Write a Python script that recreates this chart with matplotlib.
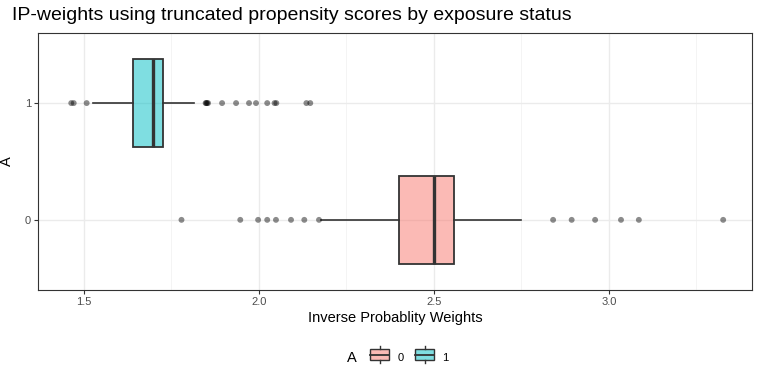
import numpy as np
import matplotlib
matplotlib.use("Agg")
import matplotlib.pyplot as plt
from matplotlib.legend_handler import HandlerBase
from matplotlib.patches import Rectangle
from matplotlib.lines import Line2D
from matplotlib.offsetbox import HPacker

plt.rcParams["font.family"] = ["Liberation Sans", "DejaVu Sans"]

# exposure groups (A) and box summaries
groups = ["0", "1"]
fills = ["#F8766D", "#00BFC4"]
q1 = [2.402, 1.641]
med = [2.500, 1.697]
q3 = [2.559, 1.726]
whislo = [2.177, 1.525]
whishi = [2.749, 1.815]
fliers = [
    [1.779, 1.947, 1.998, 2.024, 2.049, 2.092, 2.130, 2.172,
     2.841, 2.894, 2.961, 3.035, 3.086, 3.327],
    [1.464, 1.471, 1.508, 1.848, 1.850, 1.852, 1.855, 1.895, 1.935,
     1.972, 1.992, 2.024, 2.045, 2.050, 2.136, 2.147],
]
x_ticks = [1.5, 2.0, 2.5, 3.0]
ALPHA = 0.5


class BoxKeyHandler(HandlerBase):
    def create_artists(self, legend, orig_handle, xd, yd, w, h, fs, trans):
        yd = yd - 0.3 * h  # line the key up with the label text
        cx = xd + w / 2
        x0, x1 = xd + w * 0.05, xd + w * 0.95
        y0, y1 = yd + h * 0.15, yd + h * 0.85
        rect = Rectangle((x0, y0), x1 - x0, y1 - y0,
                         facecolor=orig_handle.get_facecolor(),
                         edgecolor="#333333", lw=1.0, transform=trans)
        mid = Line2D([x0, x1], [yd + h / 2, yd + h / 2],
                     color="#333333", lw=1.3, transform=trans)
        top = Line2D([cx, cx], [y1, yd + h * 1.05], color="#333333",
                     lw=1.0, transform=trans)
        bot = Line2D([cx, cx], [yd - h * 0.05, y0], color="#333333",
                     lw=1.0, transform=trans)
        return [rect, mid, top, bot]


fig = plt.figure(figsize=(7.68, 3.84), dpi=100)
ax = fig.add_axes([0.0495, 0.245, 0.9295, 0.669])

stats = []
for i in range(len(groups)):
    stats.append(dict(med=med[i], q1=q1[i], q3=q3[i], whislo=whislo[i],
                      whishi=whishi[i], fliers=[]))
bp = ax.bxp(stats, positions=[0, 1], orientation="horizontal", widths=0.75,
            patch_artist=True, showfliers=False, showcaps=False,
            boxprops=dict(edgecolor="#333333", lw=1.3),
            medianprops=dict(color="#333333", lw=2.4),
            whiskerprops=dict(color="#333333", lw=1.2))
for patch, c in zip(bp["boxes"], fills):
    patch.set_facecolor(matplotlib.colors.to_rgba(c, ALPHA))
    patch.set_zorder(3)
for k in ("medians", "whiskers"):
    for ln in bp[k]:
        ln.set_zorder(4)

for i, pts in enumerate(fliers):
    ax.scatter(pts, [i] * len(pts), s=18, color="black", alpha=0.45,
               edgecolors="none", zorder=5)

ax.set_xlim(1.369, 3.409)
ax.set_ylim(-0.6, 1.6)
ax.set_xticks(x_ticks)
ax.set_xticklabels([f"{t:.1f}" for t in x_ticks])
ax.set_xticks([1.75, 2.25, 2.75, 3.25], minor=True)
ax.set_yticks([0, 1])
ax.set_yticklabels(groups)
ax.grid(which="major", color="#EBEBEB", lw=1.0, zorder=0)
ax.grid(which="minor", axis="x", color="#F2F2F2", lw=0.6, zorder=0)
ax.set_axisbelow(True)
ax.tick_params(which="major", length=3, color="#333333", labelsize=8,
               labelcolor="#4D4D4D", pad=2)
ax.tick_params(which="minor", length=0)
for s in ax.spines.values():
    s.set_color("#333333")
    s.set_linewidth(0.8)

ax.set_xlabel("Inverse Probablity Weights", fontsize=10.5, labelpad=3)
ax.set_ylabel("A", fontsize=10.5, labelpad=8)
fig.text(0.0156, 1 - 19.5 / 384, "IP-weights using truncated propensity scores by exposure status",
         fontsize=14, ha="left", va="baseline")

handles = [Rectangle((0, 0), 1, 1, facecolor=matplotlib.colors.to_rgba(c, ALPHA))
           for c in fills]
leg = fig.legend(handles, groups, loc="center", bbox_to_anchor=(0.518, 0.068),
                 ncol=2, frameon=False, fontsize=8, title="A",
                 handler_map={Rectangle: BoxKeyHandler()},
                 handlelength=1.9, handleheight=1.7, handletextpad=0.6,
                 columnspacing=1.0)
leg.get_title().set_fontsize(10.5)
# put the legend title to the left of the keys, as ggplot does
title_box = leg._legend_title_box
handle_box = leg._legend_handle_box
leg._legend_box._children = [HPacker(children=[title_box, handle_box], pad=0,
                                     sep=9, align="center")]

fig.savefig("out.png", dpi=100)
